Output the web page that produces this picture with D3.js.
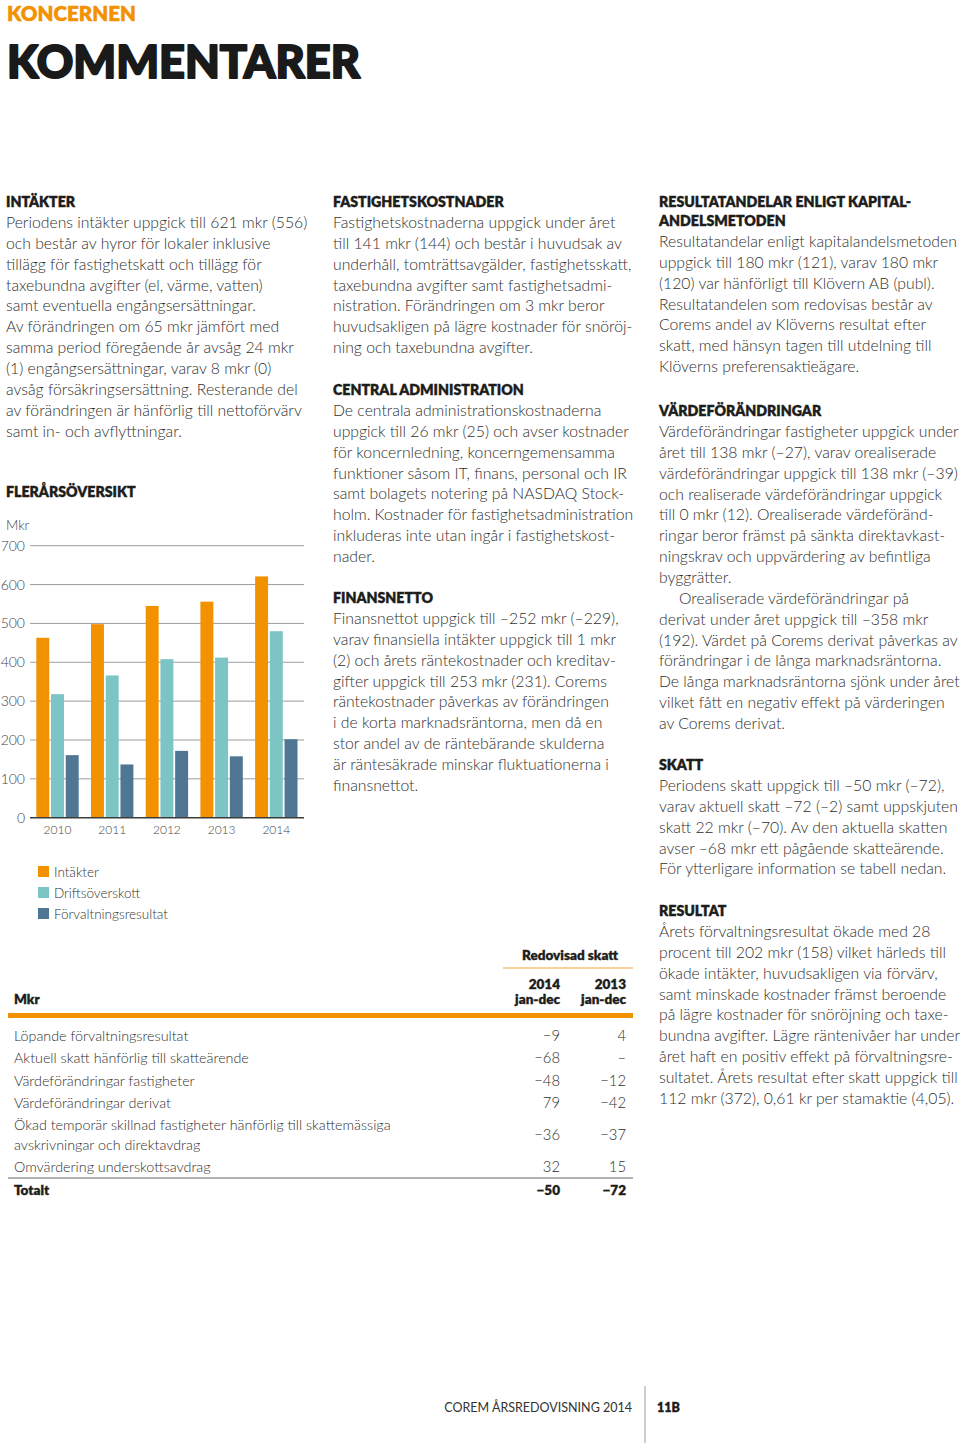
<!DOCTYPE html>
<html><head><meta charset="utf-8">
<script src="https://cdn.jsdelivr.net/npm/d3@7"></script>
<style>html,body{margin:0;padding:0;background:#fff;}svg{display:block;}</style>
</head><body>
<script>
// ---------- DATA ----------
const years = ["2010","2011","2012","2013","2014"];
const intakter = [463, 498, 545, 556, 621];
const driftsoverskott = [318, 366, 408, 412, 480];
const forvaltningsresultat = [161, 137, 172, 158, 202];
const yTicks = [0,100,200,300,400,500,600,700];
const seriesNames = ["Intäkter","Driftsöverskott","Förvaltningsresultat"];
const seriesColors = ["#F39200","#7DC4C4","#4F7794"];

const tableRows = ["Löpande förvaltningsresultat","Aktuell skatt hänförlig till skatteärende","Värdeförändringar fastigheter","Värdeförändringar derivat","Ökad temporär skillnad fastigheter hänförlig till skattemässiga|avskrivningar och direktavdrag","Omvärdering underskottsavdrag"];
const tax2014 = ["−9","−68","−48","79","−36","32"];
const tax2013 = ["4","–","−12","−42","−37","15"];
const totalLabel = "Totalt", total2014 = "−50", total2013 = "−72";

const colLeft = [
 {h:["INTÄKTER"], b:["Periodens intäkter uppgick till 621 mkr (556)","och består av hyror för lokaler inklusive","tillägg för fastighetskatt och tillägg för","taxebundna avgifter (el, värme, vatten)","samt eventuella engångsersättningar.","Av förändringen om 65 mkr jämfört med","samma period föregående år avsåg 24 mkr","(1) engångsersättningar, varav 8 mkr (0)","avsåg försäkringsersättning. Resterande del","av förändringen är hänförlig till nettoförvärv","samt in- och avflyttningar."], y:207}
];
const colMid = [
 {h:["FASTIGHETSKOSTNADER"], b:["Fastighetskostnaderna uppgick under året","till 141 mkr (144) och består i huvudsak av","underhåll, tomträttsavgälder, fastighetsskatt,","taxebundna avgifter samt fastighetsadmi-","nistration. Förändringen om 3 mkr beror","huvudsakligen på lägre kostnader för snöröj-","ning och taxebundna avgifter."], y:207},
 {h:["CENTRAL ADMINISTRATION"], b:["De centrala administrationskostnaderna","uppgick till 26 mkr (25) och avser kostnader","för koncernledning, koncerngemensamma","funktioner såsom IT, finans, personal och IR","samt bolagets notering på NASDAQ Stock-","holm. Kostnader för fastighetsadministration","inkluderas inte utan ingår i fastighetskost-","nader."], y:395},
 {h:["FINANSNETTO"], b:["Finansnettot uppgick till –252 mkr (–229),","varav finansiella intäkter uppgick till 1 mkr","(2) och årets räntekostnader och kreditav-","gifter uppgick till 253 mkr (231). Corems","räntekostnader påverkas av förändringen","i de korta marknadsräntorna, men då en","stor andel av de räntebärande skulderna","är räntesäkrade minskar fluktuationerna i","finansnettot."], y:603}
];
const colRight = [
 {h:["RESULTATANDELAR ENLIGT KAPITAL-","ANDELSMETODEN"], b:["Resultatandelar enligt kapitalandelsmetoden","uppgick till 180 mkr (121), varav 180 mkr","(120) var hänförligt till Klövern AB (publ).","Resultatandelen som redovisas består av","Corems andel av Klöverns resultat efter","skatt, med hänsyn tagen till utdelning till","Klöverns preferensaktieägare."], y:207},
 {h:["VÄRDEFÖRÄNDRINGAR"], b:["Värdeförändringar fastigheter uppgick under","året till 138 mkr (–27), varav orealiserade","värdeförändringar uppgick till 138 mkr (–39)","och realiserade värdeförändringar uppgick","till 0 mkr (12). Orealiserade värdeföränd-","ringar beror främst på sänkta direktavkast-","ningskrav och uppvärdering av befintliga","byggrätter.",">Orealiserade värdeförändringar på","derivat under året uppgick till –358 mkr","(192). Värdet på Corems derivat påverkas av","förändringar i de långa marknadsräntorna.","De långa marknadsräntorna sjönk under året","vilket fått en negativ effekt på värderingen","av Corems derivat."], y:416},
 {h:["SKATT"], b:["Periodens skatt uppgick till –50 mkr (–72),","varav aktuell skatt –72 (–2) samt uppskjuten","skatt 22 mkr (–70). Av den aktuella skatten","avser –68 mkr ett pågående skatteärende.","För ytterligare information se tabell nedan."], y:770},
 {h:["RESULTAT"], b:["Årets förvaltningsresultat ökade med 28","procent till 202 mkr (158) vilket härleds till","ökade intäkter, huvudsakligen via förvärv,","samt minskade kostnader främst beroende","på lägre kostnader för snöröjning och taxe-","bundna avgifter. Lägre räntenivåer har under","året haft en positiv effekt på förvaltningsre-","sultatet. Årets resultat efter skatt uppgick till","112 mkr (372), 0,61 kr per stamaktie (4,05)."], y:916}
];

// ---------- SETUP ----------
const W = 960, H = 1443;
const svg = d3.select("body").append("svg").attr("width", W).attr("height", H);
const FONT = "Lato, 'Open Sans', sans-serif";
const TXT = "#2f2f2e", HEAD = "#1d1d1b";

function fit(text, weight, target){
  const t = svg.append("text").attr("font-family", FONT).attr("font-weight", weight).attr("font-size", 100).text(text);
  const w = t.node().getComputedTextLength(); t.remove();
  return 100 * target / w;
}
const bodySize = fit("Resultatandelar enligt kapitalandelsmetoden", 300, 298);
const headSize = fit("CENTRAL ADMINISTRATION", 800, 191);
const tableSize = fit("Ökad temporär skillnad fastigheter hänförlig till skattemässiga", 300, 377);
const LH = 20.85;

// ---------- TITLE ----------
svg.append("text").attr("x", 7).attr("y", 20.5).attr("font-family", FONT).attr("font-weight", 800)
  .attr("font-size", fit("KONCERNEN", 800, 129)).attr("fill", "#F39200")
  .attr("stroke", "#F39200").attr("stroke-width", 0.4).text("KONCERNEN");
svg.append("text").attr("x", 7).attr("y", 78).attr("font-family", FONT).attr("font-weight", 900)
  .attr("font-size", fit("KOMMENTARER", 900, 353)).attr("fill", "#1a1a1a")
  .attr("stroke", "#1a1a1a").attr("stroke-width", 2).attr("stroke-linejoin", "round").text("KOMMENTARER");

// ---------- TEXT COLUMNS ----------
function heading(x, yy, t){
  return svg.append("text").attr("x", x).attr("y", yy).attr("font-family", FONT).attr("font-weight", 800)
    .attr("font-size", headSize).attr("fill", HEAD).attr("stroke", HEAD).attr("stroke-width", 0.35).text(t);
}
function drawCol(sections, x){
  sections.forEach(s => {
    s.h.forEach((h,i) => heading(x, s.y + i*19, h));
    const by = s.y + (s.h.length-1)*19 + 21;
    s.b.forEach((l,i) => {
      const indent = l.startsWith(">");
      svg.append("text").attr("x", x + (indent ? 20 : 0)).attr("y", by + i*LH)
        .attr("font-family", FONT).attr("font-weight", 300).attr("font-size", bodySize).attr("fill", TXT)
        .text(indent ? l.slice(1) : l);
    });
  });
}
drawCol(colLeft, 6);
drawCol(colMid, 333);
drawCol(colRight, 659);

// ---------- CHART ----------
heading(6, 497, "FLERÅRSÖVERSIKT");
svg.append("text").attr("x", 6).attr("y", 530).attr("font-family", FONT).attr("font-weight", 300)
  .attr("font-size", 13.5).attr("fill", "#444").text("Mkr");

const y = d3.scaleLinear().domain([0, 700]).range([817.7, 545.7]);
const x0 = d3.scaleBand().domain(years).range([36.3, 297.5]).paddingInner(0.225).paddingOuter(0);
const x1 = d3.scaleBand().domain(seriesNames).range([0, x0.bandwidth()]).paddingInner(0.12);
const gridL = 30, gridR = 304;

const yAxis = svg.append("g").attr("transform", `translate(${gridL},0)`)
  .call(d3.axisLeft(y).tickValues(yTicks).tickSize(0).tickPadding(5));
yAxis.select(".domain").remove();
yAxis.selectAll("text").attr("font-family", FONT).attr("font-weight", 300).attr("font-size", 14).attr("fill", "#444");

svg.append("g").selectAll("line").data(yTicks.filter(d => d > 0)).join("line")
  .attr("x1", gridL).attr("x2", gridR).attr("y1", d => y(d)).attr("y2", d => y(d))
  .attr("stroke", "#9d9d9c").attr("stroke-width", 1);

const seriesData = [intakter, driftsoverskott, forvaltningsresultat];
const groups = svg.append("g").selectAll("g").data(years).join("g")
  .attr("transform", d => `translate(${x0(d)},0)`);
groups.selectAll("rect").data((d,i) => seriesNames.map((s,j) => ({s, v: seriesData[j][i], c: seriesColors[j]})))
  .join("rect").attr("x", d => x1(d.s)).attr("width", x1.bandwidth())
  .attr("y", d => y(d.v)).attr("height", d => y(0) - y(d.v)).attr("fill", d => d.c);

svg.append("line").attr("x1", gridL).attr("x2", gridR).attr("y1", y(0)).attr("y2", y(0))
  .attr("stroke", "#3c3c3b").attr("stroke-width", 1.6);

const xAxis = svg.append("g").attr("transform", `translate(0,${y(0)})`)
  .call(d3.axisBottom(x0).tickSize(0).tickPadding(8));
xAxis.select(".domain").remove();
xAxis.selectAll("text").attr("font-family", FONT).attr("font-weight", 300).attr("font-size", 12).attr("fill", "#444");

const leg = svg.append("g").selectAll("g").data(seriesNames).join("g")
  .attr("transform", (d,i) => `translate(38,${866 + i*21})`);
leg.append("rect").attr("width", 11).attr("height", 11).attr("fill", (d,i) => seriesColors[i]);
leg.append("text").attr("x", 16).attr("y", 10.5).attr("font-family", FONT).attr("font-weight", 300)
  .attr("font-size", 13.5).attr("fill", "#333").text(d => d);

// ---------- TABLE ----------
const tL = 8, tR = 633, c1 = 560, c2 = 626, tx = 14;
const tfont = (sel, w, s) => sel.attr("font-family", FONT).attr("font-weight", w).attr("font-size", s);
const bold = sel => tfont(sel, 800, 13.5).attr("fill", HEAD).attr("stroke", HEAD).attr("stroke-width", 0.3);
bold(svg.append("text").attr("x", 618).attr("y", 960).attr("text-anchor", "end")).text("Redovisad skatt");
svg.append("line").attr("x1", 503).attr("x2", tR).attr("y1", 968).attr("y2", 968).attr("stroke", "#F6C27A").attr("stroke-width", 1.5);
[["2014", c1], ["2013", c2]].forEach(([t, cx]) => {
  bold(svg.append("text").attr("x", cx).attr("y", 989).attr("text-anchor", "end")).text(t);
  bold(svg.append("text").attr("x", cx).attr("y", 1004).attr("text-anchor", "end")).text("jan-dec");
});
bold(svg.append("text").attr("x", tx).attr("y", 1004)).text("Mkr");
svg.append("rect").attr("x", tL).attr("y", 1013).attr("width", tR - tL).attr("height", 5).attr("fill", "#F39200");

let ry = 1041;
tableRows.forEach((r, i) => {
  const parts = r.split("|");
  parts.forEach((p, k) => tfont(svg.append("text").attr("x", tx).attr("y", ry + k*19.5), 300, tableSize).attr("fill", TXT).text(p));
  const vy = ry + (parts.length - 1) * 19.5 / 2;
  tfont(svg.append("text").attr("x", c1).attr("y", vy).attr("text-anchor", "end"), 300, tableSize + 0.5).attr("fill", TXT).text(tax2014[i]);
  tfont(svg.append("text").attr("x", c2).attr("y", vy).attr("text-anchor", "end"), 300, tableSize + 0.5).attr("fill", TXT).text(tax2013[i]);
  ry += parts.length > 1 ? 41.5 : 22.3;
});
svg.append("line").attr("x1", tL).attr("x2", tR).attr("y1", 1178).attr("y2", 1178).attr("stroke", "#b2b2b2").attr("stroke-width", 2);
bold(svg.append("text").attr("x", tx).attr("y", 1195)).text(totalLabel);
bold(svg.append("text").attr("x", c1).attr("y", 1195).attr("text-anchor", "end")).text(total2014);
bold(svg.append("text").attr("x", c2).attr("y", 1195).attr("text-anchor", "end")).text(total2013);

// ---------- FOOTER ----------
svg.append("text").attr("x", 632).attr("y", 1412).attr("text-anchor", "end").attr("font-family", FONT)
  .attr("font-weight", 400).attr("font-size", 12.5).attr("fill", "#333").text("COREM ÅRSREDOVISNING 2014");
svg.append("line").attr("x1", 645).attr("x2", 645).attr("y1", 1386).attr("y2", H).attr("stroke", "#9d9d9c").attr("stroke-width", 1);
bold(svg.append("text").attr("x", 657).attr("y", 1412)).attr("font-size", 12.5).text("11B");
</script>
</body></html>
